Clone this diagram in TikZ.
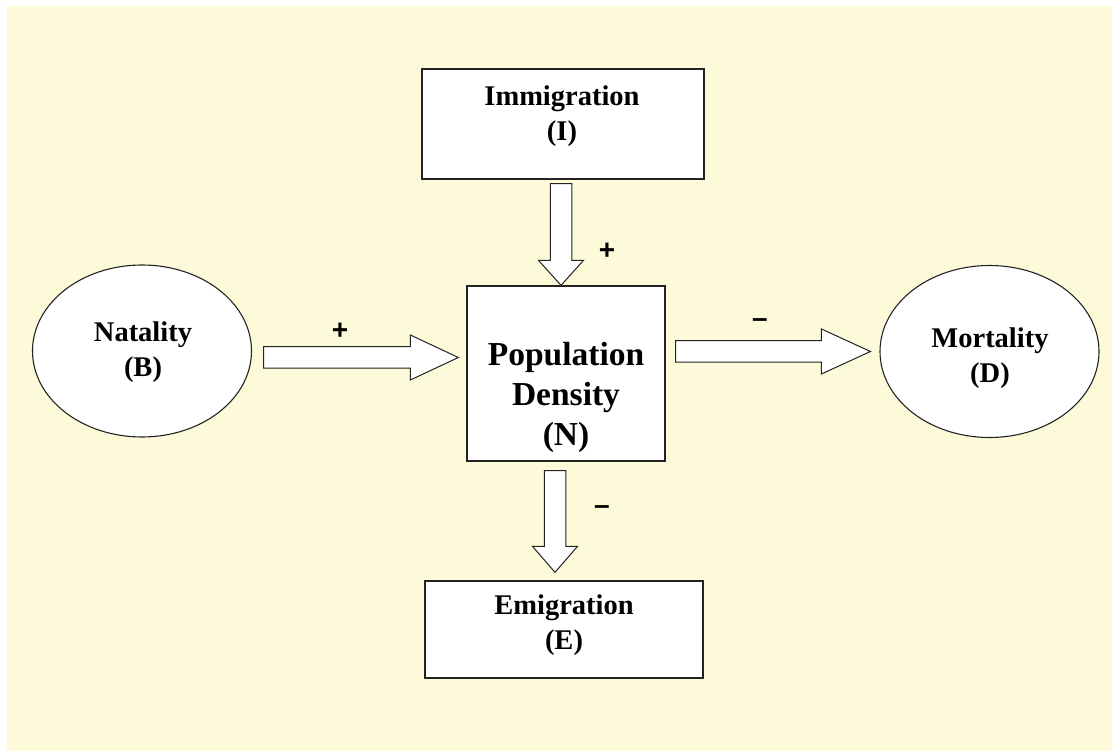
\documentclass[tikz,border=0pt]{standalone}
\usepackage{fontspec}
\setmainfont{Liberation Serif}
\newfontfamily\signfont{Liberation Sans}
\usetikzlibrary{shapes.geometric,calc}
\definecolor{paleyellow}{RGB}{252,250,216}
\definecolor{edgegray}{RGB}{35,35,35}

% hollow block arrow: from, to, head length
\newcommand{\fatarrow}[3]{%
  \draw[hollow] let \p1=(#1), \p2=(#2),
    \n1={atan2(\y2-\y1,\x2-\x1)}, \n2={veclen(\x2-\x1,\y2-\y1)} in
    [shift={(\p1)}, rotate=\n1]
    (0pt,-10.75pt) -- (\n2-#3 pt,-10.75pt) -- (\n2-#3 pt,-22.5pt) -- (\n2,0pt)
    -- (\n2-#3 pt,22.5pt) -- (\n2-#3 pt,10.75pt) -- (0pt,10.75pt) -- cycle;}

\begin{document}
\begin{tikzpicture}
[
x = 1pt, y = -1pt,
box/.style = {rectangle, draw=edgegray, fill=white, line width=1.3pt, inner sep=0pt},
oval/.style = {ellipse, draw=edgegray, fill=white, line width=1.1pt, inner sep=0pt, minimum width=219pt, minimum height=172pt},
boxtext/.style = {align=center, inner sep=0pt, font=\fontsize{28.5}{35}\selectfont\bfseries},
bigtext/.style = {align=center, inner sep=0pt, font=\fontsize{33.5}{40}\selectfont\bfseries},
signtxt/.style = {inner sep=0pt, font=\signfont\fontsize{28}{28}\selectfont\bfseries},
hollow/.style = {draw=edgegray, fill=white, line width=1pt, line join=miter}
]
\useasboundingbox (0,0) rectangle (1112,751);
\fill[paleyellow] (7,6) rectangle (1112,751);

% boxes and ovals
\node [box, minimum width=282pt, minimum height=110pt] (imm) at (563,124) {};
\node [box, minimum width=198pt, minimum height=175pt] (pop) at (566,373.5) {};
\node [box, minimum width=278pt, minimum height=97pt] (emig) at (564,629.5) {};
\node [oval] (nat) at (142,351) {};
\node [oval] (mort) at (989.5,351.5) {};

% texts
\node [boxtext] (immtext) at (562,116) {Immigration\\(I)};
\node [bigtext] (poptext) at (566,397) {Population\\Density\\(N)};
\node [boxtext] (emigtext) at (564,625) {Emigration\\(E)};
\node [boxtext] (nattext) at (143,352.5) {Natality\\(B)};
\node [boxtext] (morttext) at (990,358.5) {Mortality\\(D)};

% arrows
\coordinate (natout) at ([xshift=11.5pt,yshift=-6.5pt]nat.east);
\coordinate (natin) at ([xshift=-8pt]pop.west |- natout);
\coordinate (mortin) at ([xshift=-9pt]mort.west);
\coordinate (mortout) at ([xshift=10pt]pop.east |- mortin);
\coordinate (immout) at ([xshift=-2pt,yshift=-4pt]imm.south);
\coordinate (immin) at (immout |- pop.north);
\coordinate (emigout) at ([xshift=-11pt,yshift=-9pt]pop.south);
\coordinate (emigin) at ([yshift=8pt]emig.north -| emigout);
\fatarrow{natout}{natin}{48}
\fatarrow{mortout}{mortin}{49}
\fatarrow{immout}{immin}{25}
\fatarrow{emigout}{emigin}{26}

% signs
\node [signtxt] (natsign) at (340,331) {+};
\node [signtxt] (immsign) at (607,251) {+};
\node [signtxt] (mortsign) at (760,323) {\textendash};
\node [signtxt] (emigsign) at (602,510) {\textendash};
\end{tikzpicture}
\end{document}
